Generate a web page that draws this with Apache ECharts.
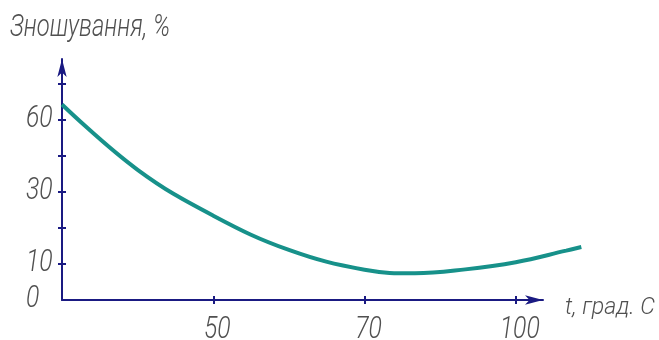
<!DOCTYPE html>
<html>
<head>
<meta charset="utf-8">
<script src="https://cdn.jsdelivr.net/npm/echarts@6/dist/echarts.min.js"></script>
<style>
  html, body { margin: 0; padding: 0; background: #ffffff; }
  #chart { width: 659px; height: 340px; }
</style>
</head>
<body>
<div id="chart"></div>
<script>
// Wear (%) of the part as a function of temperature (°C)
const temperature = [30, 40, 50, 60, 70, 80, 90, 100, 110, 113];
const wear = [66.4, 39.2, 23.4, 13.9, 8.4, 7.4, 8.5, 10.5, 13.7, 14.7];

// Graduations of the axes: equally spaced marks carrying these values
const xTickValues = [30, 50, 70, 100];
const xTickLabels = ['', '50', '70', '100'];
const yTickValues = [0, 10, 20, 30, 45, 60, 75];
const yTickLabels = ['0', '10', '', '30', '', '60', ''];

const yAxisTitle = 'Зношування, %';
const xAxisTitle = 't, град. С';

// Piecewise-linear scale: a value becomes its position between equally spaced marks
function toScale(v, ticks) {
  let i = 0;
  while (i < ticks.length - 2 && v > ticks[i + 1]) i++;
  return i + (v - ticks[i]) / (ticks[i + 1] - ticks[i]);
}

const points = temperature.map((t, i) => [toScale(t, xTickValues), toScale(wear[i], yTickValues)]);

const NAVY = '#1a1a82';
const TEAL = '#17918a';
const TEXT = '#505050';
const FAMILY = "Roboto, 'Liberation Sans', sans-serif";
const fontOf = size => 'italic 300 ' + size + 'px ' + FAMILY;

// Plot frame: the arrowed axes stop short of the right edge, the curve runs on past the arrow
const LEFT = 62, TOP = 59, BOTTOM = 40;
const AXIS_RIGHT = 116, CURVE_RIGHT = 69;
const W = 659;
const X_MAX = 3.18;
const X_MAX_CURVE = X_MAX * (W - LEFT - CURVE_RIGHT) / (W - LEFT - AXIS_RIGHT);
const Y_MAX = 6.69;

// Drafting-style lettering is narrow: squeeze text horizontally to a given width
const measureCtx = document.createElement('canvas').getContext('2d');
function widthOf(text, font) {
  measureCtx.font = font;
  return measureCtx.measureText(text).width;
}

const chart = echarts.init(document.getElementById('chart'), null, { renderer: 'canvas' });

const tickStyle = { color: NAVY, width: 2 };
const hidden = {
  splitLine: { show: false }, axisLine: { show: false },
  axisTick: { show: false }, axisLabel: { show: false }
};

chart.setOption({
  animation: false,
  backgroundColor: '#ffffff',
  grid: [
    { left: LEFT, right: AXIS_RIGHT, top: TOP, bottom: BOTTOM, containLabel: false, outerBoundsMode: 'none' },
    { left: LEFT, right: CURVE_RIGHT, top: TOP, bottom: BOTTOM, containLabel: false, outerBoundsMode: 'none' }
  ],
  xAxis: [
    {
      gridIndex: 0, type: 'value', min: 0, max: X_MAX, position: 'bottom',
      splitLine: { show: false },
      axisLine: {
        show: true, onZero: false,
        symbol: ['none', 'arrow'], symbolSize: [7, 18],
        lineStyle: { color: NAVY, width: 2 }
      },
      axisTick: { show: true, customValues: [1, 2, 3], length: 4, lineStyle: tickStyle },
      axisLabel: { show: false }
    },
    {
      gridIndex: 0, type: 'value', min: 0, max: X_MAX, position: 'bottom',
      splitLine: { show: false },
      axisLine: { show: false },
      axisTick: { show: true, inside: true, customValues: [1, 2, 3], length: 4, lineStyle: tickStyle },
      axisLabel: { show: false }
    },
    Object.assign({ gridIndex: 1, type: 'value', min: 0, max: X_MAX_CURVE }, hidden)
  ],
  yAxis: [
    {
      gridIndex: 0, type: 'value', min: 0, max: Y_MAX, position: 'left',
      splitLine: { show: false },
      axisLine: {
        show: true, onZero: false,
        symbol: ['none', 'arrow'], symbolSize: [7, 18],
        lineStyle: { color: NAVY, width: 2 }
      },
      axisTick: { show: true, customValues: [1, 2, 3, 4, 5, 6], length: 4, lineStyle: tickStyle },
      axisLabel: { show: false }
    },
    {
      gridIndex: 0, type: 'value', min: 0, max: Y_MAX, position: 'left',
      splitLine: { show: false },
      axisLine: { show: false },
      axisTick: { show: true, inside: true, customValues: [1, 2, 3, 4, 5, 6], length: 4, lineStyle: tickStyle },
      axisLabel: { show: false }
    },
    Object.assign({ gridIndex: 1, type: 'value', min: 0, max: Y_MAX }, hidden)
  ],
  series: [
    {
      type: 'line',
      xAxisIndex: 2, yAxisIndex: 2,
      data: points,
      smooth: 0.4,
      showSymbol: false,
      lineStyle: { color: TEAL, width: 4 }
    }
  ]
});

// Tick labels, placed at their marks through the axes' own scales
const labelFont = fontOf(31);
const texts = [];
const xBase = chart.convertToPixel({ yAxisIndex: 0 }, 0);
const yBase = chart.convertToPixel({ xAxisIndex: 0 }, 0);

xTickLabels.forEach((label, i) => {
  if (!label) return;
  const px = chart.convertToPixel({ xAxisIndex: 0 }, i);
  texts.push({
    type: 'text', x: px + 4, y: xBase + 30, scaleX: 0.8,
    style: { text: label, fill: TEXT, font: labelFont, align: 'center', verticalAlign: 'middle' }
  });
});

yTickLabels.forEach((label, i) => {
  if (!label) return;
  const py = chart.convertToPixel({ yAxisIndex: 0 }, i);
  texts.push({
    type: 'text', x: yBase - 36, y: py - 1, scaleX: 0.8,
    style: { text: label, fill: TEXT, font: labelFont, align: 'left', verticalAlign: 'middle' }
  });
});

// Axis titles
const titleFont = fontOf(31);
texts.push({
  type: 'text', x: 10, y: 28, scaleX: 160 / widthOf(yAxisTitle, titleFont),
  style: { text: yAxisTitle, fill: TEXT, font: titleFont, align: 'left', verticalAlign: 'middle' }
});
const unitFont = fontOf(23);
texts.push({
  type: 'text', x: 565, y: 308, scaleX: 90 / widthOf(xAxisTitle, unitFont),
  style: { text: xAxisTitle, fill: TEXT, font: unitFont, align: 'left', verticalAlign: 'middle' }
});

chart.setOption({ graphic: texts });
</script>
</body>
</html>
